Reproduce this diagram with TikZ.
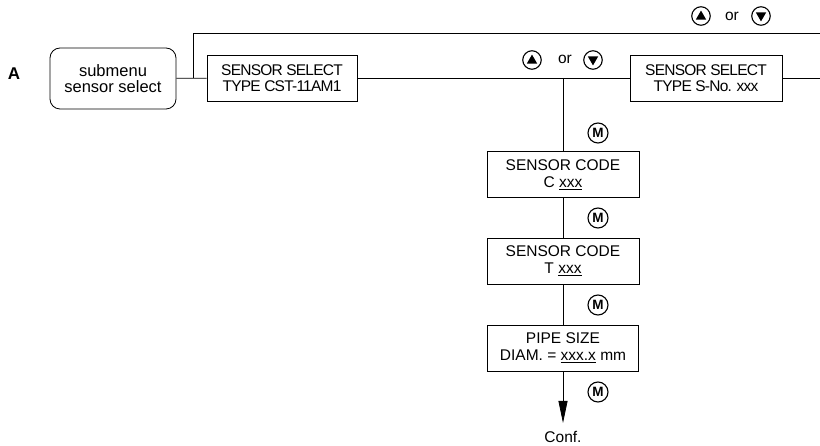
\documentclass[tikz,border=0pt]{standalone}
\usepackage{fontspec}
\setmainfont{Liberation Sans}
\newfontfamily\tightfont[LetterSpace=-5]{Liberation Sans}
\usetikzlibrary{arrows.meta}
\newcommand\upkey[2]{%
  \node[arrkey] (#1) at #2 {};
  \fill[shift={(#1.center)}] (0,-5.4) -- (-5.2,3.6) -- (5.2,3.6) -- cycle;}
\newcommand\downkey[2]{%
  \node[arrkey] (#1) at #2 {};
  \fill[shift={(#1.center)}] (0,5.4) -- (-5.2,-3.6) -- (5.2,-3.6) -- cycle;}
\begin{document}
\begin{tikzpicture}[x=1pt,y=-1pt, line width=0.8pt,
  every node/.style={font=\fontsize{15.5}{17}\selectfont, inner sep=0pt},
  menubox/.style={draw, rectangle, minimum width=152pt, minimum height=46pt, align=center},
  subbox/.style={draw, rounded corners=10pt, minimum width=126pt, minimum height=61pt, align=center},
  mkey/.style={draw, circle, line width=1.1pt, minimum size=20pt, font=\fontsize{13.5}{13.5}\selectfont\bfseries},
  arrkey/.style={draw, circle, line width=1.1pt, minimum size=18.5pt},
  lbl/.style={font=\fontsize{15.5}{17}\selectfont}]
\useasboundingbox (0,0) rectangle (820,446);
% left part
\node[font=\fontsize{17}{17}\selectfont\bfseries] (A) at (14,74) {A};
\node[subbox, font=\fontsize{16.5}{16}\selectfont] (sub) at (113,78.5) {submenu\\sensor select};
\node[menubox, minimum width=150pt, font=\fontsize{15.5}{16.5}\tightfont] (cst) at (282,78) {SENSOR SELECT\\TYPE CST-11AM1};
\node[menubox, font=\fontsize{15.5}{16.5}\tightfont] (sno) at (706,78) {SENSOR SELECT\\TYPE S-No. xxx};
% column
\node[menubox] (codeC) at (563,174.5) {SENSOR CODE\\C \underline{xxx}};
\node[menubox] (codeT) at (563,261) {SENSOR CODE\\T \underline{xxx}};
\node[menubox, minimum width=151pt] (pipe) at (563,348) {PIPE SIZE\\DIAM. = \underline{xxx.x} mm};
\node[lbl] (conf) at (563,436.5) {Conf.};
% junctions
\coordinate (j1) at (193,78);
\coordinate (top) at (820,33);
\coordinate (rend) at (820,78);
\coordinate (j2) at (563,78);
\coordinate (tip) at (563,423);
% connectors
\draw (sub) -- (cst);
\draw (j1) |- (top);
\draw (cst) -- (sno);
\draw (sno) -- (rend);
\draw (j2) -- (codeC);
\draw (codeC) -- (codeT);
\draw (codeT) -- (pipe);
\draw[-{Triangle[length=22pt,width=9pt]}] (pipe) -- (tip);
% keys
\upkey{u1}{(701,16)}
\node[lbl] (or1) at (732,16) {or};
\downkey{d1}{(761,16)}
\upkey{u2}{(532,60)}
\node[lbl] (or2) at (565,59) {or};
\downkey{d2}{(593,60)}
\node[mkey] (m1) at (598,133) {M};
\node[mkey] (m2) at (598,218) {M};
\node[mkey] (m3) at (598,305) {M};
\node[mkey] (m4) at (598,392) {M};
\end{tikzpicture}
\end{document}
